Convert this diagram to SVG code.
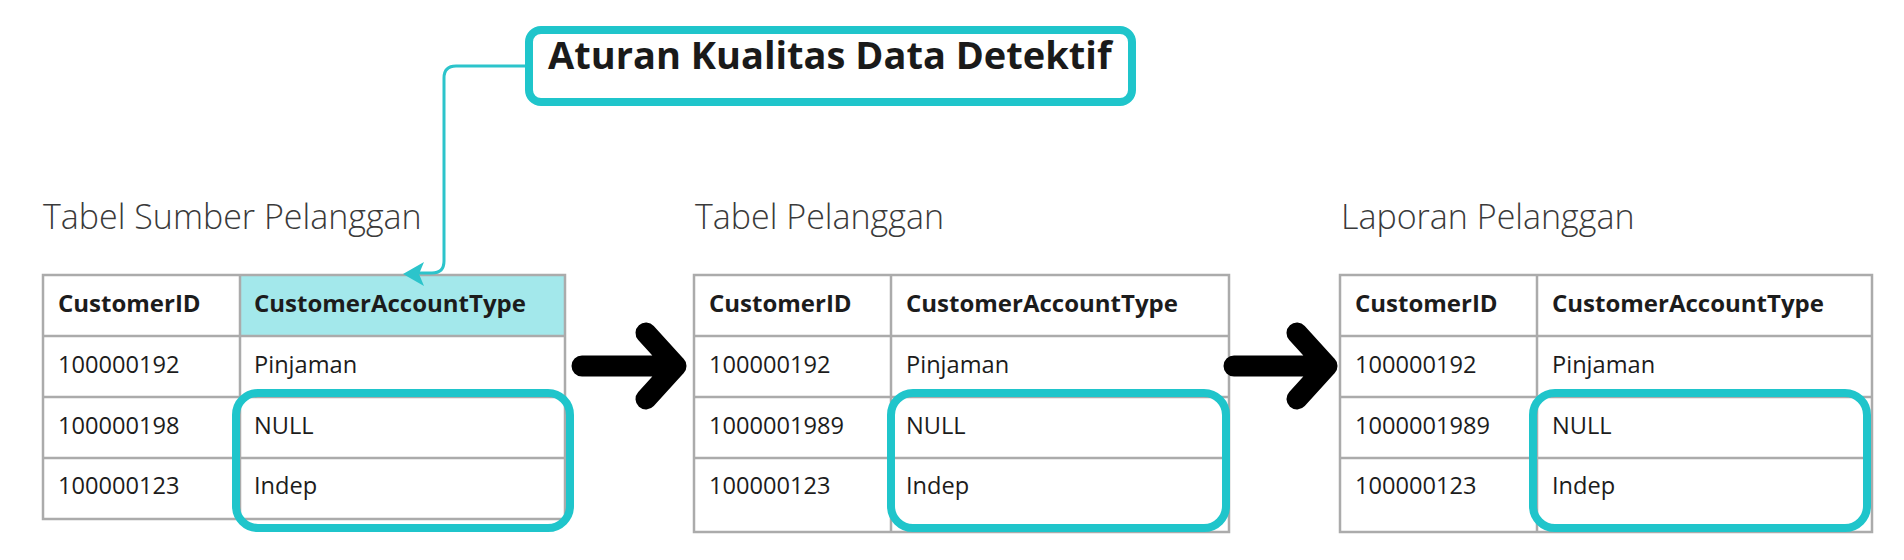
<svg xmlns="http://www.w3.org/2000/svg" width="1904" height="560" viewBox="0 0 1904 560">
<style>
.bg{fill:#ffffff}
.ttl{font-family:"Open Sans","Liberation Sans",sans-serif;font-weight:300;font-size:34px;fill:#3a3a3a}
.hd{font-family:"Open Sans","Liberation Sans",sans-serif;font-weight:700;font-size:24px;fill:#1c1c1c}
.td{font-family:"Open Sans","Liberation Sans",sans-serif;font-weight:400;font-size:23.6px;fill:#1c1c1c}
.grid{fill:none;stroke:#ababab;stroke-width:2.5}
.hl{fill:none;stroke:#1fc5cb;stroke-width:8}
.arr{fill:none;stroke:#000;stroke-width:21;stroke-linecap:round;stroke-linejoin:round}
.conn{fill:none;stroke:#2cc4cb;stroke-width:3}
.rule{font-family:"Open Sans","Liberation Sans",sans-serif;font-weight:700;font-size:38px;fill:#1a1a1a}
</style>
<rect class="bg" x="0" y="0" width="1904" height="560"/>

<g id="rule-node">
  <rect x="529" y="30" width="603" height="72" rx="12" fill="#ffffff" stroke="#1fc5cb" stroke-width="8"/>
  <text class="rule" x="548" y="69">Aturan Kualitas Data Detektif</text>
</g>

<g id="table-source">
  <text class="ttl" x="43" y="229">Tabel Sumber Pelanggan</text>
  <rect x="240" y="275" width="325" height="61" fill="#a3e8eb"/>
  <rect class="grid" x="43" y="275" width="522" height="244"/>
  <path class="grid" d="M43,336H565M43,397H565M43,458H565M240,275V519"/>
  <text class="hd" x="58" y="312">CustomerID</text>
  <text class="hd" x="254" y="312">CustomerAccountType</text>
  <text class="td" x="58" y="373">100000192</text>
  <text class="td" x="254" y="373">Pinjaman</text>
  <text class="td" x="58" y="434">100000198</text>
  <text class="td" x="254" y="434">NULL</text>
  <text class="td" x="58" y="494">100000123</text>
  <text class="td" x="254" y="494">Indep</text>
  <rect class="hl" x="236" y="393" width="334" height="135" rx="22"/>
</g>

<g id="table-customer">
  <text class="ttl" x="695" y="229">Tabel Pelanggan</text>
  <rect class="grid" x="694" y="275" width="535" height="257"/>
  <path class="grid" d="M694,336H1229M694,397H1229M694,458H1229M891,275V532"/>
  <text class="hd" x="709" y="312">CustomerID</text>
  <text class="hd" x="906" y="312">CustomerAccountType</text>
  <text class="td" x="709" y="373">100000192</text>
  <text class="td" x="906" y="373">Pinjaman</text>
  <text class="td" x="709" y="434">1000001989</text>
  <text class="td" x="906" y="434">NULL</text>
  <text class="td" x="709" y="494">100000123</text>
  <text class="td" x="906" y="494">Indep</text>
  <rect class="hl" x="891" y="393" width="335" height="135" rx="22"/>
</g>

<g id="table-report">
  <text class="ttl" x="1341" y="229">Laporan Pelanggan</text>
  <rect class="grid" x="1340" y="275" width="532" height="257"/>
  <path class="grid" d="M1340,336H1872M1340,397H1872M1340,458H1872M1537,275V532"/>
  <text class="hd" x="1355" y="312">CustomerID</text>
  <text class="hd" x="1552" y="312">CustomerAccountType</text>
  <text class="td" x="1355" y="373">100000192</text>
  <text class="td" x="1552" y="373">Pinjaman</text>
  <text class="td" x="1355" y="434">1000001989</text>
  <text class="td" x="1552" y="434">NULL</text>
  <text class="td" x="1355" y="494">100000123</text>
  <text class="td" x="1552" y="494">Indep</text>
  <rect class="hl" x="1533" y="393" width="334" height="135" rx="22"/>
</g>

<g id="connectors">
  <path class="conn" d="M525,66H456Q444,66 444,78V261Q444,273 432,273H418"/>
  <polygon points="403,274 424,262 419,274 424,286" fill="#2cc4cb"/>
  <path class="arr" d="M582,366H676M646,333L676,366L646,399"/>
  <path class="arr" d="M1234,366H1327M1297,333L1327,366L1297,399"/>
</g>
</svg>
